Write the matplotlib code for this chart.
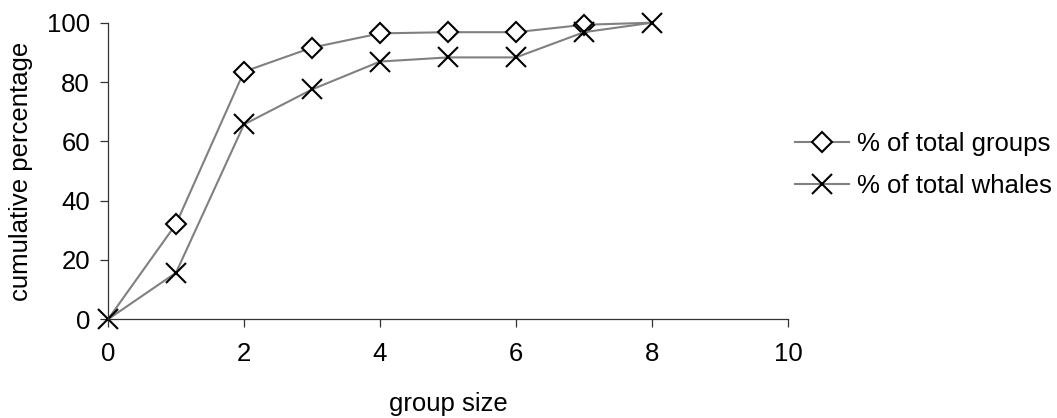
import matplotlib.pyplot as plt

plt.rcParams["font.family"] = ["Liberation Sans", "DejaVu Sans"]

# Cumulative percentages
group_size = [0, 1, 2, 3, 4, 5, 6, 7, 8]
pct_groups = [0, 32.1, 83.5, 91.6, 96.4, 96.8, 96.8, 99.3, 100]
pct_whales = [0, 15.7, 65.7, 77.5, 86.9, 88.3, 88.3, 96.8, 100]
x_ticks = [0, 2, 4, 6, 8, 10]
y_ticks = [0, 20, 40, 60, 80, 100]

fig = plt.figure(figsize=(10.57, 4.18), dpi=100)
ax = fig.add_axes([108 / 1057, 1 - 319.3 / 418, 680 / 1057, 296.6 / 418])

# diamonds hidden under the crosses at both ends in the original
ax.plot(group_size, pct_groups, color="#808080", lw=1.5, marker="D", ms=10,
        mfc="white", mec="black", mew=1.5, markevery=slice(1, -1),
        label="% of total groups", clip_on=False)
ax.plot(group_size, pct_whales, color="#808080", lw=1.5, marker="x", ms=14.5,
        mec="black", mew=1.5, label="% of total whales", clip_on=False)

ax.set_xlim(0, 10)
ax.set_ylim(0, 100)
ax.set_xticks(x_ticks)
ax.set_yticks(y_ticks)
for side in ["top", "right"]:
    ax.spines[side].set_visible(False)
for side in ["left", "bottom"]:
    ax.spines[side].set_color("#333333")
    ax.spines[side].set_linewidth(0.9)
ax.tick_params(axis="both", direction="out", length=6, width=0.9, color="#333333",
               labelsize=18.5)
ax.tick_params(axis="x", pad=10)
ax.tick_params(axis="y", pad=7)

ax.set_xlabel("group size", fontsize=18.5, labelpad=19)
ax.set_ylabel("cumulative percentage", fontsize=18.5, labelpad=10)

fig.legend(loc="center left", bbox_to_anchor=(795 / 1057, 1 - 165 / 418),
           frameon=False, fontsize=18.5, handlelength=2.1, handletextpad=0.3,
           labelspacing=0.7, borderpad=0, borderaxespad=0)

fig.savefig("out.png", dpi=100)
